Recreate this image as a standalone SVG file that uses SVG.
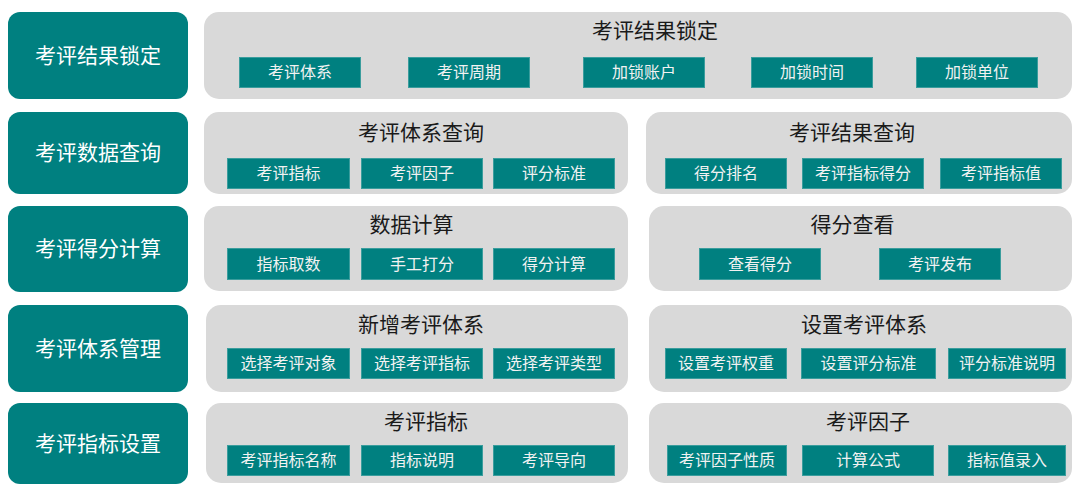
<svg xmlns="http://www.w3.org/2000/svg" width="1080" height="493" viewBox="0 0 1080 493">
<style>
.cat{fill:#008080}
.catt{fill:#ffffff;font-family:"Microsoft YaHei","Noto Sans CJK SC",sans-serif;font-size:21px;text-anchor:middle}
.pan{fill:#d9d9d9}
.ttl{fill:#1a1a1a;font-family:"Microsoft YaHei","Noto Sans CJK SC",sans-serif;font-size:21px;text-anchor:middle}
.chip{fill:#008080;stroke:#3a9d9d;stroke-width:1}
.chipt{fill:#f2f2f2;font-family:"Microsoft YaHei","Noto Sans CJK SC",sans-serif;font-size:16px;text-anchor:middle}
</style>
<rect width="1080" height="493" fill="#ffffff"/>

<g id="cat1"><rect class="cat" x="8" y="12" width="180" height="87" rx="12"/><text class="catt" x="98" y="63">考评结果锁定</text></g>
<g id="cat2"><rect class="cat" x="8" y="112" width="180" height="82" rx="12"/><text class="catt" x="98" y="160">考评数据查询</text></g>
<g id="cat3"><rect class="cat" x="8" y="206" width="180" height="86" rx="12"/><text class="catt" x="98" y="256">考评得分计算</text></g>
<g id="cat4"><rect class="cat" x="8" y="305" width="180" height="87" rx="12"/><text class="catt" x="98" y="356">考评体系管理</text></g>
<g id="cat5"><rect class="cat" x="8" y="403" width="180" height="81" rx="12"/><text class="catt" x="98" y="451">考评指标设置</text></g>

<g id="panel-lock">
<rect class="pan" x="204" y="12" width="868" height="87" rx="15"/>
<text class="ttl" x="655" y="38">考评结果锁定</text>
<rect class="chip" x="239.5" y="57.5" width="121" height="30"/><text class="chipt" x="300" y="78">考评体系</text>
<rect class="chip" x="408.5" y="57.5" width="121" height="30"/><text class="chipt" x="469" y="78">考评周期</text>
<rect class="chip" x="583.5" y="57.5" width="121" height="30"/><text class="chipt" x="644" y="78">加锁账户</text>
<rect class="chip" x="751.5" y="57.5" width="121" height="30"/><text class="chipt" x="812" y="78">加锁时间</text>
<rect class="chip" x="916.5" y="57.5" width="121" height="30"/><text class="chipt" x="977" y="78">加锁单位</text>
</g>

<g id="panel-system-query">
<rect class="pan" x="204" y="112" width="424" height="82" rx="15"/>
<text class="ttl" x="421" y="140">考评体系查询</text>
<rect class="chip" x="227.5" y="158.5" width="122" height="30"/><text class="chipt" x="288.5" y="179">考评指标</text>
<rect class="chip" x="361.5" y="158.5" width="121" height="30"/><text class="chipt" x="422" y="179">考评因子</text>
<rect class="chip" x="493.5" y="158.5" width="121" height="30"/><text class="chipt" x="554" y="179">评分标准</text>
</g>
<g id="panel-result-query">
<rect class="pan" x="646" y="112" width="426" height="82" rx="15"/>
<text class="ttl" x="852" y="140">考评结果查询</text>
<rect class="chip" x="665.5" y="158.5" width="121" height="30"/><text class="chipt" x="726" y="179">得分排名</text>
<rect class="chip" x="802.5" y="158.5" width="121" height="30"/><text class="chipt" x="863" y="179">考评指标得分</text>
<rect class="chip" x="940.5" y="158.5" width="121" height="30"/><text class="chipt" x="1001" y="179">考评指标值</text>
</g>

<g id="panel-data-calc">
<rect class="pan" x="204" y="206" width="424" height="85" rx="15"/>
<text class="ttl" x="411.5" y="232">数据计算</text>
<rect class="chip" x="227.5" y="248.5" width="122" height="31"/><text class="chipt" x="288.5" y="269.5">指标取数</text>
<rect class="chip" x="361.5" y="248.5" width="121" height="31"/><text class="chipt" x="422" y="269.5">手工打分</text>
<rect class="chip" x="493.5" y="248.5" width="121" height="31"/><text class="chipt" x="554" y="269.5">得分计算</text>
</g>
<g id="panel-score-view">
<rect class="pan" x="649" y="206" width="423" height="85" rx="15"/>
<text class="ttl" x="852.5" y="232">得分查看</text>
<rect class="chip" x="699.5" y="248.5" width="121" height="31"/><text class="chipt" x="760" y="269.5">查看得分</text>
<rect class="chip" x="879.5" y="248.5" width="121" height="31"/><text class="chipt" x="940" y="269.5">考评发布</text>
</g>

<g id="panel-new-system">
<rect class="pan" x="206" y="305" width="422" height="87" rx="15"/>
<text class="ttl" x="421" y="332">新增考评体系</text>
<rect class="chip" x="227.5" y="348.5" width="122" height="30"/><text class="chipt" x="288.5" y="369">选择考评对象</text>
<rect class="chip" x="361.5" y="348.5" width="121" height="30"/><text class="chipt" x="422" y="369">选择考评指标</text>
<rect class="chip" x="493.5" y="348.5" width="121" height="30"/><text class="chipt" x="554" y="369">选择考评类型</text>
</g>
<g id="panel-set-system">
<rect class="pan" x="649" y="305" width="423" height="87" rx="15"/>
<text class="ttl" x="864" y="332">设置考评体系</text>
<rect class="chip" x="665.5" y="348.5" width="121" height="30"/><text class="chipt" x="726" y="369">设置考评权重</text>
<rect class="chip" x="801.5" y="348.5" width="134" height="30"/><text class="chipt" x="868.5" y="369">设置评分标准</text>
<rect class="chip" x="948.5" y="348.5" width="117" height="30"/><text class="chipt" x="1007" y="369">评分标准说明</text>
</g>

<g id="panel-indicator">
<rect class="pan" x="206" y="403" width="422" height="80" rx="15"/>
<text class="ttl" x="426" y="429">考评指标</text>
<rect class="chip" x="227.5" y="445.5" width="122" height="30"/><text class="chipt" x="288.5" y="466">考评指标名称</text>
<rect class="chip" x="361.5" y="445.5" width="121" height="30"/><text class="chipt" x="422" y="466">指标说明</text>
<rect class="chip" x="493.5" y="445.5" width="121" height="30"/><text class="chipt" x="554" y="466">考评导向</text>
</g>
<g id="panel-factor">
<rect class="pan" x="649" y="403" width="423" height="80" rx="15"/>
<text class="ttl" x="868" y="429">考评因子</text>
<rect class="chip" x="667.5" y="445.5" width="119" height="30"/><text class="chipt" x="727" y="466">考评因子性质</text>
<rect class="chip" x="802.5" y="445.5" width="131" height="30"/><text class="chipt" x="868" y="466">计算公式</text>
<rect class="chip" x="948.5" y="445.5" width="117" height="30"/><text class="chipt" x="1007" y="466">指标值录入</text>
</g>

<g id="connectors"></g>
</svg>
